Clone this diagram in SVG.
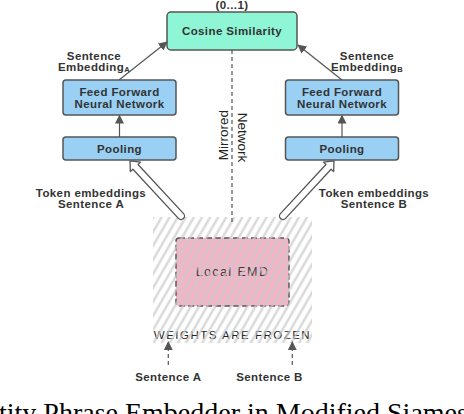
<svg xmlns="http://www.w3.org/2000/svg" width="464" height="414" viewBox="0 0 464 414">
<style>
.lbl{font-family:"Liberation Sans",Arial,sans-serif;font-weight:bold;font-size:11.5px;letter-spacing:0.4px;fill:#333;text-anchor:middle}
.box{stroke:#555;stroke-width:1.5}
.blue{fill:#99d0f4}
.ln{stroke:#555;stroke-width:1.2;fill:none}
.dash{stroke:#555;stroke-width:1.2;fill:none;stroke-dasharray:4 3}
.hollow{fill:#fff;stroke:#555;stroke-width:1.3;stroke-linejoin:round}
</style>
<defs>
<marker id="ah" viewBox="0 0 10 10" refX="9" refY="5" markerWidth="9" markerHeight="9" markerUnits="userSpaceOnUse" orient="auto">
<path d="M0,0 L10,5 L0,10 Z" fill="#555"/>
</marker>
<pattern id="hatch" patternUnits="userSpaceOnUse" width="7" height="10" patternTransform="rotate(30)">
<line x1="3.5" y1="-1" x2="3.5" y2="11" stroke="#cacaca" stroke-width="2.2"/>
</pattern>
</defs>
<rect width="464" height="414" fill="#fff"/>

<g id="frozen">
<g id="local-emd">
<rect x="176" y="238" width="113" height="68" rx="3" fill="#f2b5c8" stroke="#555" stroke-width="1.5" stroke-dasharray="6 3"/>
<text x="232.5" y="276" font-family="'Liberation Sans',Arial,sans-serif" font-size="12.5" letter-spacing="1.4" fill="#3a3a3a" text-anchor="middle">Local EMD</text>
</g>
<text x="232.5" y="339" font-family="'Liberation Sans',Arial,sans-serif" font-size="11.5" letter-spacing="1.5" fill="#222" text-anchor="middle">WEIGHTS ARE FROZEN</text>
<rect x="153" y="217" width="159" height="126" fill="url(#hatch)" opacity="0.8"/>
</g>

<g id="cosine">
<rect class="box" x="167" y="12" width="130" height="38" rx="4" fill="#8ef5d5"/>
<text class="lbl" x="232" y="35">Cosine Similarity</text>
<text class="lbl" x="232" y="8.5">(0...1)</text>
</g>

<g id="ffnn-a">
<rect class="box blue" x="63" y="80" width="113" height="35" rx="3"/>
<text class="lbl" x="119.5" y="96">Feed Forward</text>
<text class="lbl" x="119.5" y="108">Neural Network</text>
</g>
<g id="pool-a">
<rect class="box blue" x="63" y="137" width="113" height="23" rx="3"/>
<text class="lbl" x="119.5" y="152.5">Pooling</text>
</g>
<g id="ffnn-b">
<rect class="box blue" x="285.5" y="80" width="113" height="35" rx="3"/>
<text class="lbl" x="342" y="96">Feed Forward</text>
<text class="lbl" x="342" y="108">Neural Network</text>
</g>
<g id="pool-b">
<rect class="box blue" x="285.5" y="137" width="113" height="23" rx="3"/>
<text class="lbl" x="342" y="152.5">Pooling</text>
</g>

<g id="connectors">
<line class="ln" x1="119.5" y1="137" x2="119.5" y2="115.5" marker-end="url(#ah)"/>
<line class="ln" x1="342" y1="137" x2="342" y2="115.5" marker-end="url(#ah)"/>
<line class="ln" x1="119" y1="80" x2="167" y2="42" marker-end="url(#ah)"/>
<line class="ln" x1="342" y1="80" x2="298" y2="45" marker-end="url(#ah)"/>
<line class="dash" x1="232" y1="50" x2="232" y2="222"/>
<line class="dash" x1="168.3" y1="365" x2="168.3" y2="342" marker-end="url(#ah)"/>
<line class="dash" x1="292.3" y1="365" x2="292.3" y2="342" marker-end="url(#ah)"/>
<path class="hollow" transform="translate(181,216) rotate(-132.8)" d="M0,-3.5 L67,-3.5 L67,-7 L75,0 L67,7 L67,3.5 L0,3.5 A3.5,3.5 0 0 1 0,-3.5 Z"/>
<path class="hollow" transform="translate(283,216) rotate(-47.2)" d="M0,-3.5 L67,-3.5 L67,-7 L75,0 L67,7 L67,3.5 L0,3.5 A3.5,3.5 0 0 1 0,-3.5 Z"/>
</g>

<g id="labels">
<text class="lbl" x="94" y="60">Sentence</text>
<text class="lbl" x="94" y="70.5">Embedding<tspan font-size="7.5" dy="1">A</tspan></text>
<text class="lbl" x="367" y="60">Sentence</text>
<text class="lbl" x="367" y="70.5">Embedding<tspan font-size="7.5" dy="1">B</tspan></text>
<text class="lbl" x="91" y="196.5">Token embeddings</text>
<text class="lbl" x="91" y="208">Sentence A</text>
<text class="lbl" x="374" y="196.5">Token embeddings</text>
<text class="lbl" x="374" y="208">Sentence B</text>
<text class="lbl" x="168.3" y="381">Sentence A</text>
<text class="lbl" x="269.5" y="381">Sentence B</text>
<text x="228" y="135" transform="rotate(-90 228 135)" font-family="'Liberation Sans',Arial,sans-serif" font-size="13.5" fill="#222" text-anchor="middle">Mirrored</text>
<text x="237.5" y="137.5" transform="rotate(90 237.5 137.5)" font-family="'Liberation Sans',Arial,sans-serif" font-size="13.5" fill="#222" text-anchor="middle">Network</text>
</g>

<text x="-1" y="422" font-family="'Liberation Serif','Times New Roman',serif" font-size="28" fill="#000">tity Phrase Embedder in Modified Siamese</text>
</svg>
